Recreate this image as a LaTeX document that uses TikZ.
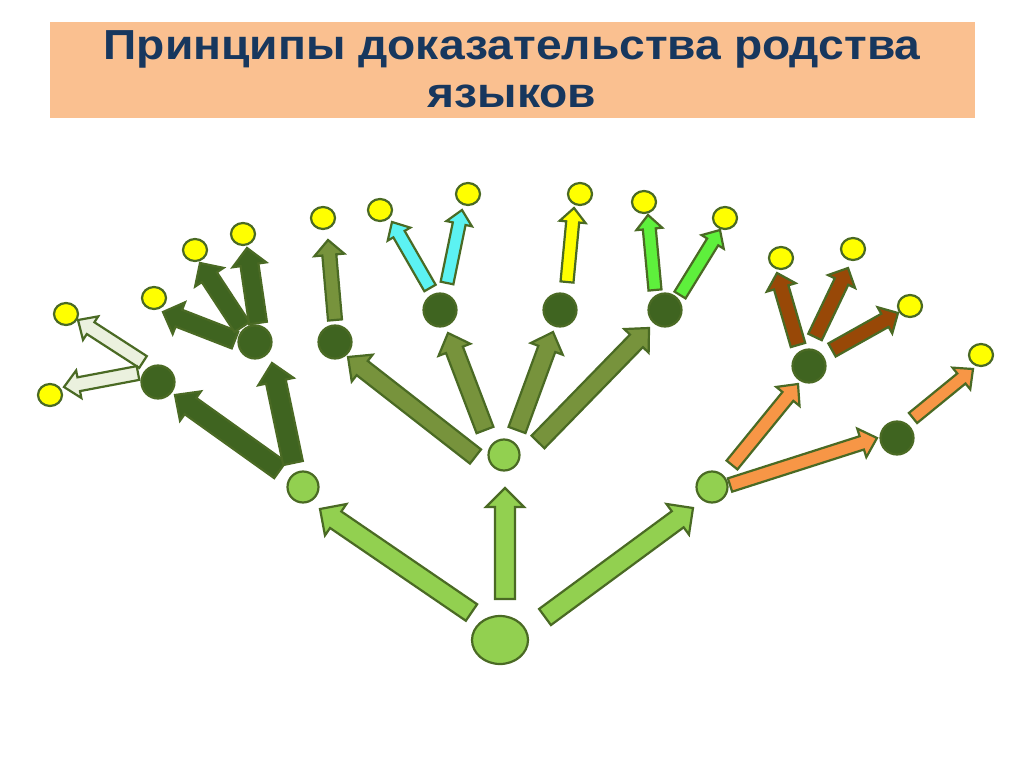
\documentclass[tikz,border=0pt]{standalone}
\usepackage{fontspec}
\setmainfont{Liberation Sans}
\newfontfamily\titlefont[FakeStretch=1.1]{Liberation Sans}
\usepackage{xcolor}
\usepackage{tikz}
\usetikzlibrary{positioning}
\usetikzlibrary{calc}
\usetikzlibrary{shapes.geometric}

\definecolor{rim}{HTML}{4A6A24}
\definecolor{lightgreen}{HTML}{92D050}
\definecolor{darkgreen}{HTML}{3F6420}
\definecolor{olive}{HTML}{77933C}
\definecolor{pale}{HTML}{EBF1DE}
\definecolor{aqua}{HTML}{5CF2F2}
\definecolor{lemon}{HTML}{FFFF00}
\definecolor{grass}{HTML}{5EF03C}
\definecolor{rust}{HTML}{984807}
\definecolor{peach}{HTML}{F79646}
\definecolor{titlebg}{HTML}{FAC090}
\definecolor{titlefg}{HTML}{17375E}

\tikzset{
  rootnode/.style={ellipse, draw=rim, line width=2.2pt, fill=lightgreen, minimum width=56pt, minimum height=48pt, inner sep=0pt},
  midnode/.style={circle, draw=rim, line width=2.2pt, fill=lightgreen, minimum size=31pt, inner sep=0pt},
  darknode/.style={circle, draw=rim, line width=2.2pt, fill=darkgreen, minimum size=33pt, inner sep=0pt},
  leafnode/.style={ellipse, draw=rim, line width=2.2pt, fill=lemon, minimum width=24pt, minimum height=22pt, inner sep=0pt},
  barrow/.style={draw=rim, line width=2.2pt, line join=miter, fill=#1}
}

% block arrow: style, tail, tip, shaft half width, head half width, head length
\newcommand{\blockarrow}[6]{%
  \coordinate (ba-t) at #2;
  \coordinate (ba-h) at #3;
  \coordinate (ba-n) at ($(ba-h)!#6!(ba-t)$);
  \draw[barrow=#1] ($(ba-t)!#4!90:(ba-h)$) -- ($(ba-n)!#4!90:(ba-h)$)
    -- ($(ba-n)!#5!90:(ba-h)$) -- (ba-h) -- ($(ba-n)!#5!-90:(ba-h)$)
    -- ($(ba-n)!#4!-90:(ba-h)$) -- ($(ba-t)!#4!-90:(ba-h)$) -- cycle;
}

\begin{document}
\begin{tikzpicture}[x=1pt, y=-1pt]
  \useasboundingbox[fill=white] (0,0) rectangle (1024,767);

  % title
  \fill[titlebg] (50,22) rectangle (975,118);
  \node[font=\titlefont\fontsize{42}{48}\selectfont\bfseries, text=titlefg, align=center] (title) at (512,69)
    {Принципы доказательства родства\\языков};

  % tree nodes
  \node[rootnode] (root) at (500,640) {};
  \node[midnode] (L) at (303,487) {};
  \node[midnode] (M) at (504,455) {};
  \node[midnode] (R) at (712,487) {};
  \node[darknode] (A) at (158,382) {};
  \node[darknode] (B) at (255,342) {};
  \node[darknode] (C) at (335,342) {};
  \node[darknode] (D) at (440,310) {};
  \node[darknode] (E) at (560,310) {};
  \node[darknode] (F) at (665,310) {};
  \node[darknode] (G) at (809,366) {};
  \node[darknode] (H) at (897,438) {};
  \node[leafnode] (y1) at (66,314) {};
  \node[leafnode] (y2) at (50,395) {};
  \node[leafnode] (y3) at (154,298) {};
  \node[leafnode] (y4) at (195,250) {};
  \node[leafnode] (y5) at (243,234) {};
  \node[leafnode] (y6) at (323,218) {};
  \node[leafnode] (y7) at (380,210) {};
  \node[leafnode] (y8) at (468,194) {};
  \node[leafnode] (y9) at (580,194) {};
  \node[leafnode] (y10) at (644,202) {};
  \node[leafnode] (y11) at (725,218) {};
  \node[leafnode] (y12) at (781,258) {};
  \node[leafnode] (y13) at (853,249) {};
  \node[leafnode] (y14) at (910,306) {};
  \node[leafnode] (y15) at (981,355) {};

  % arrows from the root
  \blockarrow{lightgreen}{($(root)+(-28.5,-27.5)$)}{($(L)+(17,22)$)}{10pt}{19pt}{19pt}
  \blockarrow{lightgreen}{($(root)+(5,-41)$)}{($(M)+(1,33)$)}{10pt}{19pt}{19pt}
  \blockarrow{lightgreen}{($(root)+(45,-23)$)}{($(R)+(-19,21)$)}{10pt}{19pt}{19pt}

  % left branch
  \blockarrow{darkgreen}{($(L)+(-23,-17)$)}{($(A)+(17,13)$)}{10pt}{18pt}{19pt}
  \blockarrow{darkgreen}{($(L)+(-10,-24)$)}{($(B)+(17,21)$)}{10pt}{18pt}{19pt}
  \blockarrow{pale}{($(A)+(-15,-20)$)}{($(y1)+(12,6)$)}{7pt}{14pt}{15pt}
  \blockarrow{pale}{($(A)+(-20,-9)$)}{($(y2)+(14,-8)$)}{7pt}{14pt}{15pt}
  \blockarrow{darkgreen}{($(B)+(-20,-2)$)}{($(y3)+(9,14)$)}{9pt}{17pt}{17pt}
  \blockarrow{darkgreen}{($(B)+(-13,-15)$)}{($(y4)+(5,13)$)}{9pt}{17pt}{17pt}
  \blockarrow{darkgreen}{($(B)+(3,-19)$)}{($(y5)+(4,14)$)}{9pt}{17pt}{17pt}

  % middle branch
  \blockarrow{olive}{($(M)+(-28.5,1.5)$)}{($(C)+(13,15)$)}{9pt}{17pt}{18pt}
  \blockarrow{olive}{($(M)+(-19,-25)$)}{($(D)+(8,23)$)}{9pt}{17pt}{18pt}
  \blockarrow{olive}{($(M)+(13,-25)$)}{($(E)+(-7,22)$)}{9pt}{17pt}{18pt}
  \blockarrow{olive}{($(M)+(34,-13)$)}{($(F)+(-16,18)$)}{9pt}{17pt}{18pt}
  \blockarrow{olive}{($(C)+(0,-22)$)}{($(y6)+(5,22)$)}{7pt}{15pt}{15pt}
  \blockarrow{aqua}{($(D)+(-10,-22)$)}{($(y7)+(12,12)$)}{6.5pt}{13pt}{14pt}
  \blockarrow{aqua}{($(D)+(7,-27)$)}{($(y8)+(-6,16)$)}{6.5pt}{13pt}{14pt}
  \blockarrow{lemon}{($(E)+(7,-28)$)}{($(y9)+(-6,14)$)}{6.5pt}{13pt}{14pt}
  \blockarrow{grass}{($(F)+(-10,-20)$)}{($(y10)+(4,13)$)}{6.5pt}{13pt}{14pt}
  \blockarrow{grass}{($(F)+(15,-15)$)}{($(y11)+(-5,12)$)}{6.5pt}{13pt}{14pt}

  % right branch
  \blockarrow{peach}{($(R)+(20,-22)$)}{($(G)+(-11,18)$)}{7pt}{15pt}{16pt}
  \blockarrow{peach}{($(R)+(18,-2)$)}{($(H)+(-20,0)$)}{7pt}{15pt}{16pt}
  \blockarrow{peach}{($(H)+(16,-20)$)}{($(y15)+(-8,14)$)}{6.5pt}{14pt}{15pt}
  \blockarrow{rust}{($(G)+(-11,-21)$)}{($(y12)+(-4,15)$)}{7.5pt}{15pt}{15pt}
  \blockarrow{rust}{($(G)+(6,-29)$)}{($(y13)+(-5,19)$)}{7.5pt}{15pt}{15pt}
  \blockarrow{rust}{($(G)+(23,-16)$)}{($(y14)+(-12,7)$)}{7.5pt}{15pt}{15pt}
\end{tikzpicture}
\end{document}
